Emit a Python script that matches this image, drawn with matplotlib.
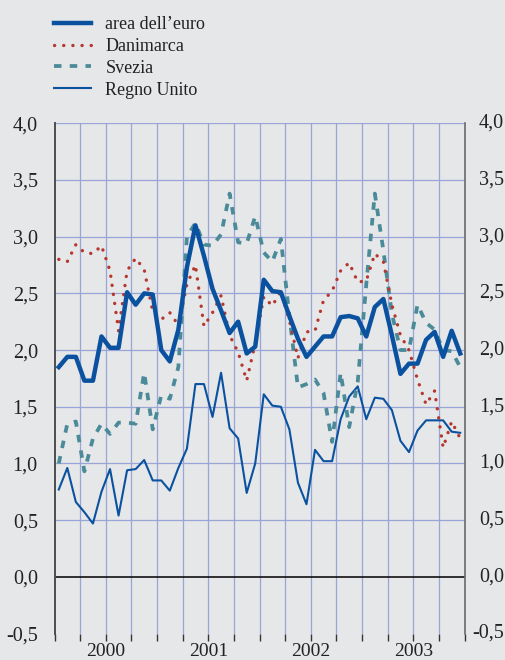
import numpy as np
from matplotlib import pyplot as plt
from matplotlib.lines import Line2D
from matplotlib.transforms import blended_transform_factory

plt.rcParams['font.family'] = ['Liberation Serif', 'DejaVu Serif']

# inflazione al consumo, variazioni sul periodo corrispondente (gen. 2000 - dic. 2003)
mesi = np.arange(48)
area_euro = [1.85, 1.94, 1.94, 1.73, 1.73, 2.12, 2.02, 2.02, 2.51, 2.40, 2.50, 2.49,
             2.00, 1.90, 2.18, 2.73, 3.10, 2.83, 2.54, 2.35, 2.15, 2.25, 1.97, 2.03,
             2.62, 2.52, 2.51, 2.30, 2.10, 1.94, 2.03, 2.12, 2.12, 2.29, 2.30, 2.28,
             2.12, 2.38, 2.45, 2.13, 1.79, 1.88, 1.88, 2.09, 2.16, 1.94, 2.17, 1.97]
danimarca = [2.80, 2.78, 2.93, 2.86, 2.85, 2.92, 2.70, 2.17, 2.70, 2.81, 2.71, 2.34,
             2.27, 2.33, 2.22, 2.58, 2.75, 2.21, 2.33, 2.48, 2.13, 1.98, 1.73, 2.06,
             2.47, 2.39, 2.52, 2.26, 1.93, 2.16, 2.17, 2.44, 2.52, 2.70, 2.77, 2.60,
             2.61, 2.85, 2.78, 2.40, 2.13, 2.00, 1.74, 1.52, 1.64, 1.14, 1.37, 1.22]
svezia = [1.00, 1.35, 1.37, 0.93, 1.22, 1.35, 1.26, 1.36, 1.36, 1.35, 1.80, 1.30,
          1.60, 1.57, 1.85, 3.00, 3.12, 2.93, 2.92, 3.02, 3.38, 2.95, 2.94, 3.18,
          2.86, 2.78, 2.98, 2.30, 1.67, 1.70, 1.74, 1.62, 1.19, 1.80, 1.32, 1.72,
          2.58, 3.38, 2.88, 2.32, 2.00, 2.00, 2.40, 2.24, 2.18, 2.00, 1.99, 1.85]
regno_unito = [0.77, 0.96, 0.66, 0.57, 0.47, 0.75, 0.95, 0.54, 0.94, 0.95, 1.03, 0.85,
               0.85, 0.76, 0.96, 1.13, 1.70, 1.70, 1.41, 1.80, 1.31, 1.22, 0.74, 1.00,
               1.61, 1.51, 1.50, 1.30, 0.83, 0.64, 1.12, 1.02, 1.02, 1.39, 1.59, 1.68,
               1.39, 1.58, 1.57, 1.47, 1.20, 1.10, 1.29, 1.38, 1.38, 1.38, 1.28, 1.27]
anni = [2000, 2001, 2002, 2003]
livelli_y = [-0.5, 0.0, 0.5, 1.0, 1.5, 2.0, 2.5, 3.0, 3.5, 4.0]
etichette_y = [f"{v:.1f}".replace('.', ',') for v in livelli_y]

sfondo = '#e6e7e9'
blu = '#0a529f'
rosso = '#b5372d'
verde_acqua = '#4b8b99'
griglia = '#98a5d6'
testo = '#222222'

punti = (0, (0.05, 2.7))
trattini = (0, (2.0, 2.2))

x = 2000 + (mesi + 0.5) / 12.0

fig = plt.figure(figsize=(5.05, 6.6), dpi=100, facecolor=sfondo)
ax = fig.add_axes([54.5 / 505, 1 - 633.5 / 660, 410 / 505, 510.2 / 660])
ax.set_facecolor(sfondo)

# griglia: trimestri in verticale, mezzi punti in orizzontale
for q in np.arange(2000.25, 2004.0, 0.25):
    ax.axvline(q, color=griglia, lw=0.9, zorder=1)
for v in livelli_y[2:]:
    ax.axhline(v, color=griglia, lw=0.9, zorder=1)
ax.axhline(0.0, color='black', lw=1.1, zorder=2)

ax.plot(x, regno_unito, color=blu, lw=1.5, zorder=3)
ax.plot(x, svezia, color=verde_acqua, lw=2.7, linestyle=trattini, zorder=4)
ax.plot(x, danimarca, color=rosso, lw=2.4, linestyle=punti,
        dash_capstyle='round', zorder=5)
ax.plot(x, area_euro, color=blu, lw=3.2, zorder=6)

ax.set_xlim(2000, 2004)
ax.set_ylim(-0.5, 4.0)

# etichette a sinistra come tick, a destra allineate al bordo della figura
ax.set_yticks(livelli_y)
ax.set_yticklabels(etichette_y)
ax.tick_params(axis='y', length=0, pad=12, labelsize=14.5, labelcolor=testo)
destra = blended_transform_factory(fig.transFigure, ax.transData)
for v, s in zip(livelli_y, etichette_y):
    ax.text(504 / 505, v, s, transform=destra, ha='right', va='center',
            fontsize=14.5, color=testo, clip_on=False)

ax.set_xticks(np.arange(2000, 2004.01, 0.25))
ax.set_xticklabels([])
ax.tick_params(axis='x', direction='out', length=5, width=1, color='#333333')
for a in anni:
    ax.annotate(str(a), xy=(a + 0.5, 0), xycoords=('data', 'axes fraction'),
                xytext=(0, -7), textcoords='offset points', ha='center', va='top',
                fontsize=14, color=testo, annotation_clip=False)

ax.spines['top'].set_visible(False)
ax.spines['bottom'].set_visible(False)
ax.spines['left'].set_color('#4d4d4d')
ax.spines['left'].set_linewidth(1.4)
ax.spines['right'].set_color('#6a6a6a')
ax.spines['right'].set_linewidth(1.2)

voci = [
    Line2D([], [], color=blu, lw=3.2),
    Line2D([], [], color=rosso, lw=2.4, linestyle=punti, dash_capstyle='round'),
    Line2D([], [], color=verde_acqua, lw=2.7, linestyle=trattini),
    Line2D([], [], color=blu, lw=1.5),
]
etichette = ["area dell\u2019euro", "Danimarca", "Svezia", "Regno Unito"]
fig.legend(voci, etichette, loc='upper left', bbox_to_anchor=(54 / 505, 1 - 16 / 660),
           frameon=False, fontsize=13, handlelength=2.05, handletextpad=0.8,
           labelspacing=0.27, borderpad=0, borderaxespad=0, labelcolor=testo)

fig.savefig('out.png', dpi=100, facecolor=sfondo)
